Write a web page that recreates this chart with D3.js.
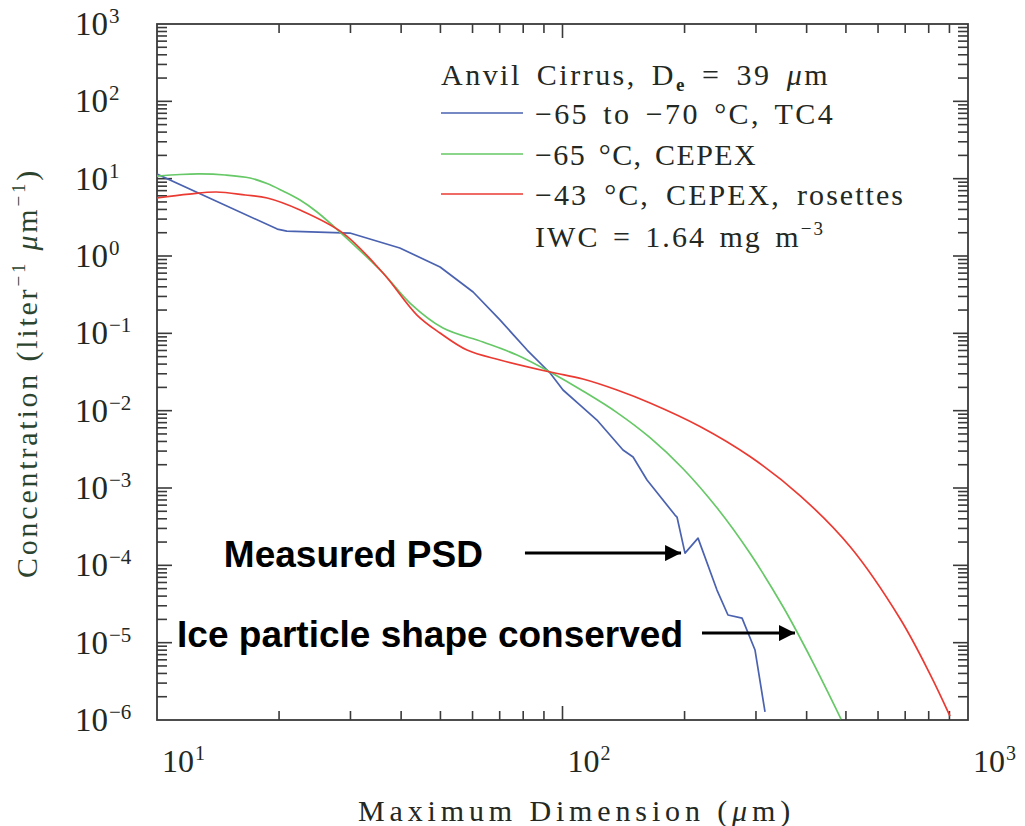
<!DOCTYPE html>
<html>
<head>
<meta charset="utf-8">
<script src="https://cdn.jsdelivr.net/npm/d3@7"></script>
<style>
  html, body { margin: 0; padding: 0; background: #ffffff; }
  svg { display: block; }
</style>
</head>
<body>
<svg id="chart" width="1025" height="826"></svg>
<script>
// Ice particle size distributions in anvil cirrus (D_e = 39 um)

// Measured PSD, -65 to -70 C, TC4
const sizeTC4 = [10, 19.8, 20.9, 29.9, 39.7, 49.9, 60.2, 70.1, 81.8, 93.2, 100.3, 110.5, 121.6, 141.0, 149.3, 161.6, 189.4, 191.6, 200.5, 215.9, 240.4, 255.9, 277.2, 298.4, 315.8];
const concTC4 = [11.5, 2.23, 2.10, 1.98, 1.27, 0.72, 0.342, 0.149, 0.0608, 0.0307, 0.0185, 0.0118, 0.00757, 0.0031, 0.00252, 0.00127, 0.000447, 0.000421, 0.000144, 0.000225, 4.79e-5, 2.28e-5, 2.08e-5, 8.03e-6, 1.27e-6];

// -65 C, CEPEX
const sizeCEPEX65 = [10, 11.4, 12.76, 14.72, 16.96, 18.68, 20.45, 22.53, 24.81, 28.27, 36.09, 42.06, 50.74, 63.68, 77.24, 93.16, 112.3, 136.3, 164.4, 198.3, 240.4, 290.0, 349.9, 412.4, 486.3];
const concCEPEX65 = [10.8, 11.32, 11.5, 11.15, 10.2, 8.66, 6.92, 5.30, 3.71, 2.04, 0.603, 0.2466, 0.1172, 0.0772, 0.0524, 0.0316, 0.01795, 0.00944, 0.00447, 0.001775, 5.54e-4, 1.43e-4, 2.91e-5, 5.87e-6, 1.03e-6];

// -43 C, CEPEX, rosettes
const sizeCEPEX43 = [10, 12, 14, 16.5, 18.7, 22.53, 28.75, 36.09, 43.77, 49.88, 58.15, 70.14, 93.16, 112.3, 136.3, 164.4, 218.3, 290.0, 385.2, 511.7, 679.6, 805.9, 902.8];
const concCEPEX43 = [5.62, 6.3, 6.72, 6.15, 5.62, 3.93, 1.98, 0.603, 0.1725, 0.101, 0.0608, 0.0452, 0.0316, 0.02566, 0.01849, 0.01256, 0.00624, 0.00255, 7.99e-4, 1.751e-4, 2.052e-5, 3.93e-6, 1.125e-6];

const seriesLabels = ["\u221265 to \u221270 \u00B0C, TC4", "\u221265 \u00B0C, CEPEX", "\u221243 \u00B0C, CEPEX, rosettes"];
const seriesColors = ["#4a62b0", "#66c866", "#ea3a32"];

// Decade tick labels (powers of ten)
const xTickExponents = [1, 2, 3];
const yTickExponents = [-6, -5, -4, -3, -2, -1, 0, 1, 2, 3];

// Annotation arrows: label, tail size, tip size, concentration level of the arrow
const annotationLabels = ["Measured PSD", "Ice particle shape conserved"];
const annotationTail = [80.8, 220.8];
const annotationTip = [198.3, 378.7];
const annotationConc = [1.44e-4, 1.33e-5];

const svg = d3.select("#chart");
const plot = { left: 157, right: 968, top: 24, bottom: 720 };

const x = d3.scaleLog().domain([10, 1000]).range([plot.left, plot.right]);
const y = d3.scaleLog().domain([1e-6, 1e3]).range([plot.bottom, plot.top]);

const serif = "'Liberation Serif', 'Times New Roman', serif";
const textColor = "#232823";
const axisColor = "#3a3a3a";

const defs = svg.append("defs");
defs.append("clipPath").attr("id", "plotClip")
  .append("rect")
  .attr("x", plot.left).attr("y", plot.top)
  .attr("width", plot.right - plot.left).attr("height", plot.bottom - plot.top);

// minor/major ticks on all four sides, pointing inward
function decadeTicks(scale) {
  const [d0, d1] = scale.domain().map(v => Math.round(Math.log10(v)));
  const out = [];
  for (let e = d0; e <= d1; e++) {
    for (let k = 1; k <= 9; k++) {
      const v = k * Math.pow(10, e);
      if (v > scale.domain()[0] * 1.0001 && v < scale.domain()[1] * 0.9999) out.push({ v, major: k === 1 });
    }
  }
  return out;
}

const tickG = svg.append("g").attr("stroke", axisColor).attr("stroke-width", 1.6);
decadeTicks(x).forEach(t => {
  const len = t.major ? 14 : 9;
  const px = x(t.v);
  tickG.append("line").attr("x1", px).attr("x2", px).attr("y1", plot.bottom).attr("y2", plot.bottom - len);
  tickG.append("line").attr("x1", px).attr("x2", px).attr("y1", plot.top).attr("y2", plot.top + len);
});
decadeTicks(y).forEach(t => {
  const len = t.major ? 15 : 10;
  const py = y(t.v);
  tickG.append("line").attr("y1", py).attr("y2", py).attr("x1", plot.left).attr("x2", plot.left + len);
  tickG.append("line").attr("y1", py).attr("y2", py).attr("x1", plot.right).attr("x2", plot.right - len);
});

// frame
svg.append("rect")
  .attr("x", plot.left).attr("y", plot.top)
  .attr("width", plot.right - plot.left).attr("height", plot.bottom - plot.top)
  .attr("fill", "none").attr("stroke", axisColor).attr("stroke-width", 1.8);

const fmtExp = e => (e < 0 ? "\u2212" : "") + Math.abs(e);

// y tick labels
yTickExponents.forEach(e => {
  const py = y(Math.pow(10, e));
  svg.append("text")
    .attr("x", 108).attr("y", py + 11)
    .attr("text-anchor", "end")
    .attr("font-family", serif).attr("font-size", 33).attr("fill", textColor)
    .text("10");
  svg.append("text")
    .attr("x", 109).attr("y", py - 1)
    .attr("font-family", serif).attr("font-size", 21).attr("fill", textColor)
    .text(fmtExp(e));
});

// x tick labels
xTickExponents.forEach(e => {
  const px = x(Math.pow(10, e));
  svg.append("text")
    .attr("x", px + 5).attr("y", 772)
    .attr("font-family", serif).attr("font-size", 32).attr("fill", textColor)
    .text("10");
  svg.append("text")
    .attr("x", px + 38).attr("y", 760)
    .attr("font-family", serif).attr("font-size", 20).attr("fill", textColor)
    .text(fmtExp(e));
});

// stretch a text element to a target width, partly with letter spacing, partly with word spacing
function fitWidth(sel, target, wordShare) {
  const node = sel.node();
  const w = node.getComputedTextLength();
  const txt = node.textContent;
  const n = txt.length;
  const spaces = (txt.match(/ /g) || []).length;
  const extra = target - w;
  const share = spaces > 0 ? wordShare : 0;
  sel.attr("letter-spacing", ((extra * (1 - share)) / n).toFixed(3));
  if (share > 0) sel.attr("word-spacing", ((extra * share) / spaces).toFixed(3));
}

// axis titles
const xTitle = svg.append("text")
  .attr("x", 358).attr("y", 821)
  .attr("font-family", serif).attr("font-size", 30).attr("fill", textColor);
xTitle.append("tspan").text("Maximum Dimension (");
xTitle.append("tspan").attr("font-style", "italic").text("\u03BC");
xTitle.append("tspan").text("m)");
fitWidth(xTitle, 437, 0);

const yTitle = svg.append("text")
  .attr("transform", "translate(37,578) rotate(-90)")
  .attr("font-family", serif).attr("font-size", 30).attr("fill", "#2c432e");
yTitle.append("tspan").text("Concentration (liter");
yTitle.append("tspan").attr("font-size", 19).attr("dy", -12).text("\u22121");
yTitle.append("tspan").attr("dy", 12).text(" ");
yTitle.append("tspan").attr("font-style", "italic").text("\u03BC");
yTitle.append("tspan").text("m");
yTitle.append("tspan").attr("font-size", 19).attr("dy", -12).text("\u22121");
yTitle.append("tspan").attr("dy", 12).text(")");
fitWidth(yTitle, 410, 0);

// curves
const line = d3.line().x(d => x(d[0])).y(d => y(d[1]));
const series = [
  { sizes: sizeTC4, conc: concTC4, curve: d3.curveLinear },
  { sizes: sizeCEPEX65, conc: concCEPEX65, curve: d3.curveCatmullRom.alpha(0.5) },
  { sizes: sizeCEPEX43, conc: concCEPEX43, curve: d3.curveCatmullRom.alpha(0.5) }
];
const curveG = svg.append("g").attr("clip-path", "url(#plotClip)");
series.forEach((s, i) => {
  curveG.append("path")
    .datum(d3.zip(s.sizes, s.conc))
    .attr("fill", "none")
    .attr("stroke", seriesColors[i])
    .attr("stroke-width", 1.7)
    .attr("stroke-linejoin", "round")
    .attr("d", line.curve(s.curve));
});

// legend
const legendX = 441;
const legendFont = 30;
const title = svg.append("text")
  .attr("x", legendX).attr("y", 85)
  .attr("font-family", serif).attr("font-size", legendFont).attr("fill", textColor);
title.append("tspan").text("Anvil Cirrus, D");
title.append("tspan").attr("font-size", 19).attr("font-weight", "bold").attr("dy", 6).text("e");
title.append("tspan").attr("dy", -6).text(" = 39 ");
title.append("tspan").attr("font-style", "italic").text("\u03BC");
title.append("tspan").text("m");
fitWidth(title, 389, 0.3);

const legendRows = [124, 165, 205];
const legendWidths = [300, 222, 370];
seriesLabels.forEach((lab, i) => {
  const by = legendRows[i];
  svg.append("line")
    .attr("x1", legendX).attr("x2", 523)
    .attr("y1", by - 11).attr("y2", by - 11)
    .attr("stroke", seriesColors[i]).attr("stroke-width", 1.7);
  const t = svg.append("text")
    .attr("x", 535).attr("y", by)
    .attr("font-family", serif).attr("font-size", legendFont).attr("fill", textColor)
    .text(lab);
  fitWidth(t, legendWidths[i], 0.3);
});

const iwc = svg.append("text")
  .attr("x", 535).attr("y", 247)
  .attr("font-family", serif).attr("font-size", legendFont).attr("fill", textColor);
iwc.append("tspan").text("IWC = 1.64 mg m");
iwc.append("tspan").attr("font-size", 19).attr("dy", -12).text("\u22123");
fitWidth(iwc, 290, 0.3);

// annotations with arrows
defs.append("marker")
  .attr("id", "arrowHead")
  .attr("viewBox", "0 0 10 10")
  .attr("refX", 10).attr("refY", 5)
  .attr("markerWidth", 17).attr("markerHeight", 16)
  .attr("markerUnits", "userSpaceOnUse")
  .attr("orient", "auto")
  .append("path").attr("d", "M0,0 L10,5 L0,10 Z").attr("fill", "#000");

const textGap = [42, 19];
annotationLabels.forEach((lab, i) => {
  const ay = y(annotationConc[i]);
  const x0 = x(annotationTail[i]);
  const x1 = x(annotationTip[i]);
  svg.append("line")
    .attr("x1", x0).attr("x2", x1 - 2)
    .attr("y1", ay).attr("y2", ay)
    .attr("stroke", "#000").attr("stroke-width", 3)
    .attr("marker-end", "url(#arrowHead)");
  svg.append("text")
    .attr("x", x0 - textGap[i]).attr("y", ay + 14)
    .attr("text-anchor", "end")
    .attr("font-family", "'Liberation Sans', Arial, sans-serif")
    .attr("font-weight", "bold").attr("font-size", 37).attr("fill", "#000")
    .text(lab);
});
</script>
</body>
</html>
